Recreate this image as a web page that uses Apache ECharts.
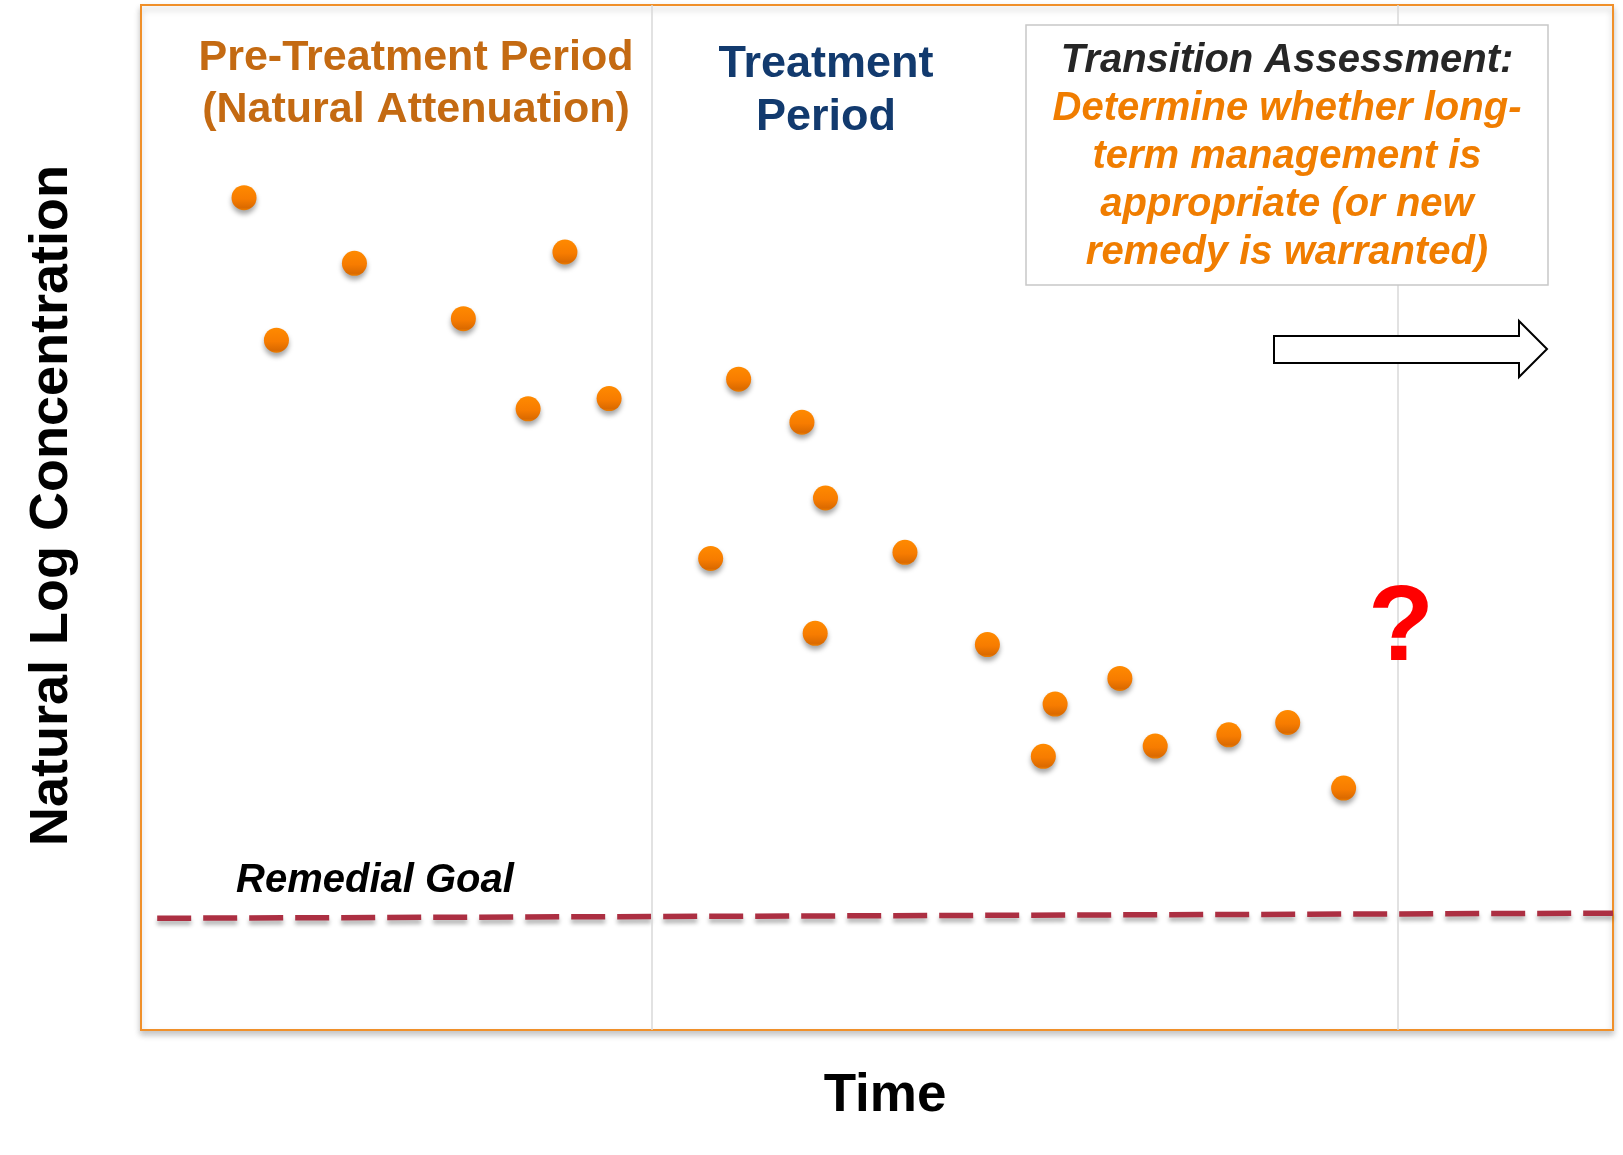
<!DOCTYPE html>
<html>
<head>
<meta charset="utf-8">
<script src="https://cdn.jsdelivr.net/npm/echarts@6/dist/echarts.min.js"></script>
<style>html,body{margin:0;padding:0;background:#fff;}#chart{width:1623px;height:1155px;}</style>
</head>
<body>
<div id="chart"></div>
<script>
// Sample times (arbitrary units) and natural-log concentrations (arbitrary units)
const timeValues = [7.0, 9.2, 14.5, 21.9, 26.3, 28.8, 31.8, 38.7, 40.6, 44.9, 45.8, 46.5, 51.9, 57.5, 61.3, 62.1, 66.5, 68.9, 73.9, 77.9, 81.7];
const concentrationValues = [81.2, 67.3, 74.8, 69.4, 60.6, 75.9, 61.6, 46.0, 63.5, 59.3, 38.7, 51.9, 46.6, 37.6, 26.7, 31.8, 34.3, 27.7, 28.8, 30.0, 23.6];
const periodBoundaries = [34.7, 85.4];
const goalX = [1.1, 100];
const goalY = [10.9, 11.4];

const FONT = '"Liberation Sans", Arial, Helvetica, sans-serif';

const chart = echarts.init(document.getElementById('chart'), null, {renderer: 'canvas'});

const option = {
  backgroundColor: '#ffffff',
  animation: false,
  grid: {
    left: 141, right: 10, top: 5, bottom: 125,
    show: true,
    backgroundColor: '#ffffff',
    borderColor: '#F0902A',
    borderWidth: 2,
    shadowColor: 'rgba(0,0,0,0.22)',
    shadowBlur: 6,
    shadowOffsetY: 4
  },
  xAxis: {
    type: 'value', min: 0, max: 100,
    name: 'Time',
    nameLocation: 'middle',
    nameGap: 40,
    nameTextStyle: {fontFamily: FONT, fontSize: 53, fontWeight: 'bold', color: '#000', padding: [0, 0, 0, 16]},
    axisLine: {show: false}, axisTick: {show: false}, axisLabel: {show: false}, splitLine: {show: false}
  },
  yAxis: {
    type: 'value', min: 0, max: 100,
    name: 'Natural Log Concentration',
    nameLocation: 'middle',
    nameGap: 62,
    nameTextStyle: {fontFamily: FONT, fontSize: 54, fontWeight: 'bold', color: '#000', padding: [0, 0, 0, 24]},
    axisLine: {show: false}, axisTick: {show: false}, axisLabel: {show: false}, splitLine: {show: false}
  },
  series: [
    {
      type: 'scatter',
      name: 'boundaries',
      data: [],
      silent: true,
      markLine: {
        silent: true,
        symbol: 'none',
        label: {show: false},
        lineStyle: {color: '#D9D9D9', width: 1.5, type: 'solid'},
        data: periodBoundaries.map(v => ({xAxis: v}))
      }
    },
    {
      type: 'line',
      name: 'Remedial Goal',
      data: goalX.map((x, i) => [x, goalY[i]]),
      symbol: 'none',
      silent: true,
      lineStyle: {
        color: '#AC2F42', width: 5.5, type: [34, 12], opacity: 1,
        shadowColor: 'rgba(0,0,0,0.3)', shadowBlur: 4, shadowOffsetY: 4
      },
      z: 3
    },
    {
      type: 'scatter',
      name: 'Concentration',
      data: timeValues.map((t, i) => [t, concentrationValues[i]]),
      symbol: 'circle',
      symbolSize: 25,
      itemStyle: {
        opacity: 1,
        color: new echarts.graphic.LinearGradient(0, 0, 0, 1, [
          {offset: 0, color: '#FF8A00'},
          {offset: 0.55, color: '#F77C00'},
          {offset: 0.9, color: '#DB6A00'},
          {offset: 1, color: '#F08000'}
        ]),
        shadowColor: 'rgba(0,0,0,0.35)',
        shadowBlur: 5,
        shadowOffsetY: 4
      },
      z: 5
    }
  ],
  graphic: [
    {
      type: 'text', x: 416, y: 84, silent: true,
      style: {
        text: 'Pre-Treatment Period\n(Natural Attenuation)',
        fill: '#C46A12', fontFamily: FONT, fontSize: 43, fontWeight: 'bold',
        align: 'center', verticalAlign: 'middle', lineHeight: 52
      }
    },
    {
      type: 'text', x: 826, y: 91, silent: true,
      style: {
        text: 'Treatment\nPeriod',
        fill: '#123A6E', fontFamily: FONT, fontSize: 45, fontWeight: 'bold',
        align: 'center', verticalAlign: 'middle', lineHeight: 53
      }
    },
    {
      type: 'rect', silent: true,
      shape: {x: 1026, y: 25, width: 522, height: 260},
      style: {fill: '#ffffff', stroke: '#C8C8C8', lineWidth: 1.5},
      z: 10
    },
    {
      type: 'text', x: 1287, y: 61, silent: true, z: 11,
      style: {
        text: 'Transition Assessment:',
        fill: '#262626', fontFamily: FONT, fontSize: 40, fontWeight: 'bold', fontStyle: 'italic',
        align: 'center', verticalAlign: 'middle'
      }
    },
    {
      type: 'text', x: 1287, y: 181, silent: true, z: 11,
      style: {
        text: 'Determine whether long-\nterm management is\nappropriate (or new\nremedy is warranted)',
        fill: '#F07D00', fontFamily: FONT, fontSize: 40, fontWeight: 'bold', fontStyle: 'italic',
        align: 'center', verticalAlign: 'middle', lineHeight: 48
      }
    },
    {
      type: 'polygon', silent: true, z: 11,
      shape: {points: [[1274, 336], [1519, 336], [1519, 321], [1547, 349], [1519, 377], [1519, 363], [1274, 363]]},
      style: {fill: '#ffffff', stroke: '#000000', lineWidth: 2}
    },
    {
      type: 'text', x: 1401, y: 630, silent: true, z: 11,
      style: {
        text: '?', fill: '#FF0000', fontFamily: FONT, fontSize: 108, fontWeight: 'bold',
        align: 'center', verticalAlign: 'middle'
      }
    },
    {
      type: 'text', x: 236, y: 881, silent: true, z: 11,
      style: {
        text: 'Remedial Goal', fill: '#000000', fontFamily: FONT, fontSize: 40, fontWeight: 'bold', fontStyle: 'italic',
        align: 'left', verticalAlign: 'middle'
      }
    }
  ]
};

chart.setOption(option);
</script>
</body>
</html>
